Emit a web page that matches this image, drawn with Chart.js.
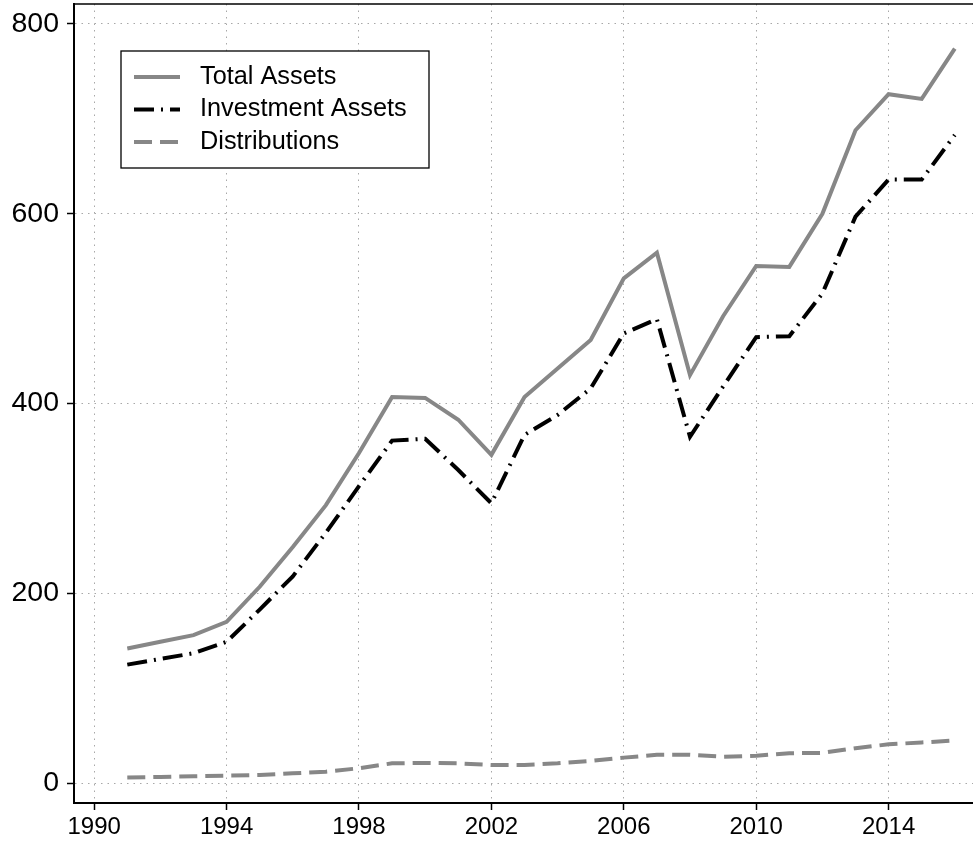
<!DOCTYPE html>
<html lang="en">
<head>
    <meta charset="UTF-8">
    <title>Total Assets, Investment Assets and Distributions</title>
    <script src="https://cdn.jsdelivr.net/npm/chart.js"></script>
    <style>
        body { margin: 0; background: #fff; }
        #wrap { width: 973px; height: 844px; position: relative; }
    </style>
</head>
<body>
    <div id="wrap">
        <canvas id="assetsChart"></canvas>
    </div>

    <script>
        // Datos
        const years = [1991, 1992, 1993, 1994, 1995, 1996, 1997, 1998, 1999, 2000, 2001, 2002, 2003,
                       2004, 2005, 2006, 2007, 2008, 2009, 2010, 2011, 2012, 2013, 2014, 2015, 2016];
        const totalAssets = [142, 149, 156, 170, 207, 249, 293, 348, 407, 406, 383, 346, 407,
                             437, 467, 532, 559, 430, 492, 545, 544, 600, 688, 726, 721, 774];
        const investmentAssets = [125, 131, 137, 149, 183, 218, 264, 313, 361, 363, 330, 295, 367,
                                  388, 416, 474, 489, 365, 418, 470, 471, 516, 597, 636, 636, 683];
        const distributions = [6, 6.6, 7.4, 8, 8.7, 10.5, 12.2, 15.8, 21, 21.4, 21, 19.3, 19.3,
                               21, 23.5, 27, 30, 30, 28, 29, 31.6, 32, 37, 41, 43, 45];
        const xTicks = [1990, 1994, 1998, 2002, 2006, 2010, 2014];
        const yTicks = [0, 200, 400, 600, 800];

        const FONT = '"Liberation Sans", Arial, Helvetica, sans-serif';

        function toPoints(values) {
            return years.map((yr, i) => ({ x: yr, y: values[i] }));
        }

        // Marco superior + leyenda dentro del área del gráfico
        const framePlugin = {
            id: 'frameAndLegend',
            afterDraw(chart) {
                const ctx = chart.ctx;
                const a = chart.chartArea;
                ctx.save();
                ctx.strokeStyle = '#000';
                ctx.lineWidth = 1.5;
                ctx.setLineDash([]);
                ctx.beginPath();
                ctx.moveTo(a.left, a.top);
                ctx.lineTo(a.right, a.top);
                ctx.stroke();

                // leyenda
                const bx = a.left + 47, by = a.top + 47;
                ctx.fillStyle = '#fff';
                ctx.fillRect(bx, by, 308, 117);
                ctx.lineWidth = 1.3;
                ctx.strokeRect(bx, by, 308, 117);
                ctx.font = '25.3px ' + FONT;
                ctx.textBaseline = 'middle';
                chart.data.datasets.forEach((ds, i) => {
                    const ry = by + 26 + i * 32.5;
                    ctx.strokeStyle = ds.borderColor;
                    ctx.lineWidth = ds.borderWidth;
                    ctx.setLineDash(ds.borderDash || []);
                    ctx.beginPath();
                    ctx.moveTo(bx + 13, ry);
                    ctx.lineTo(bx + 59, ry);
                    ctx.stroke();
                    ctx.setLineDash([]);
                    ctx.fillStyle = '#000';
                    ctx.fillText(ds.label, bx + 79, ry);
                });
                ctx.restore();
            }
        };

        const gridOpts = {
            color: '#a8a8a8',
            lineWidth: 1,
            tickLength: 7,
            tickColor: '#000',
            tickWidth: 1.5,
            tickBorderDash: []
        };
        const borderOpts = { display: true, color: '#000', width: 2, dash: [1.5, 5] };

        const ctx = document.getElementById('assetsChart').getContext('2d');
        new Chart(ctx, {
            type: 'line',
            data: {
                datasets: [
                    {
                        label: 'Total Assets',
                        data: toPoints(totalAssets),
                        borderColor: '#878787',
                        borderWidth: 4
                    },
                    {
                        label: 'Investment Assets',
                        data: toPoints(investmentAssets),
                        borderColor: '#000',
                        borderWidth: 4,
                        borderDash: [20, 7, 2, 7]
                    },
                    {
                        label: 'Distributions',
                        data: toPoints(distributions),
                        borderColor: '#878787',
                        borderWidth: 4,
                        borderDash: [18, 8]
                    }
                ]
            },
            options: {
                responsive: true,
                maintainAspectRatio: false,
                animation: false,
                events: [],
                layout: { padding: { top: 4, right: 0, left: 0, bottom: 0 } },
                elements: {
                    point: { radius: 0 },
                    line: { tension: 0, fill: false, borderJoinStyle: 'miter' }
                },
                plugins: {
                    legend: { display: false },
                    tooltip: { enabled: false }
                },
                scales: {
                    x: {
                        type: 'linear',
                        min: 1989.39,
                        max: 2016.55,
                        afterBuildTicks: (scale) => { scale.ticks = xTicks.map(v => ({ value: v })); },
                        afterFit: (scale) => {
                            scale.height = 41;
                            scale.paddingLeft = 0;
                            scale.paddingRight = 0;
                        },
                        border: borderOpts,
                        grid: gridOpts,
                        ticks: {
                            color: '#000',
                            font: { family: FONT, size: 24 },
                            padding: 3,
                            maxRotation: 0,
                            autoSkip: false,
                            callback: (v) => String(v)
                        }
                    },
                    y: {
                        min: -20.8,
                        max: 821,
                        afterBuildTicks: (scale) => { scale.ticks = yTicks.map(v => ({ value: v })); },
                        afterFit: (scale) => {
                            scale.width = 74;
                            scale.paddingTop = 0;
                            scale.paddingBottom = 0;
                        },
                        border: borderOpts,
                        grid: gridOpts,
                        ticks: {
                            color: '#000',
                            font: { family: FONT, size: 28.5 },
                            padding: 8,
                            callback: (v) => String(v)
                        }
                    }
                }
            },
            plugins: [framePlugin]
        });
    </script>
</body>
</html>
